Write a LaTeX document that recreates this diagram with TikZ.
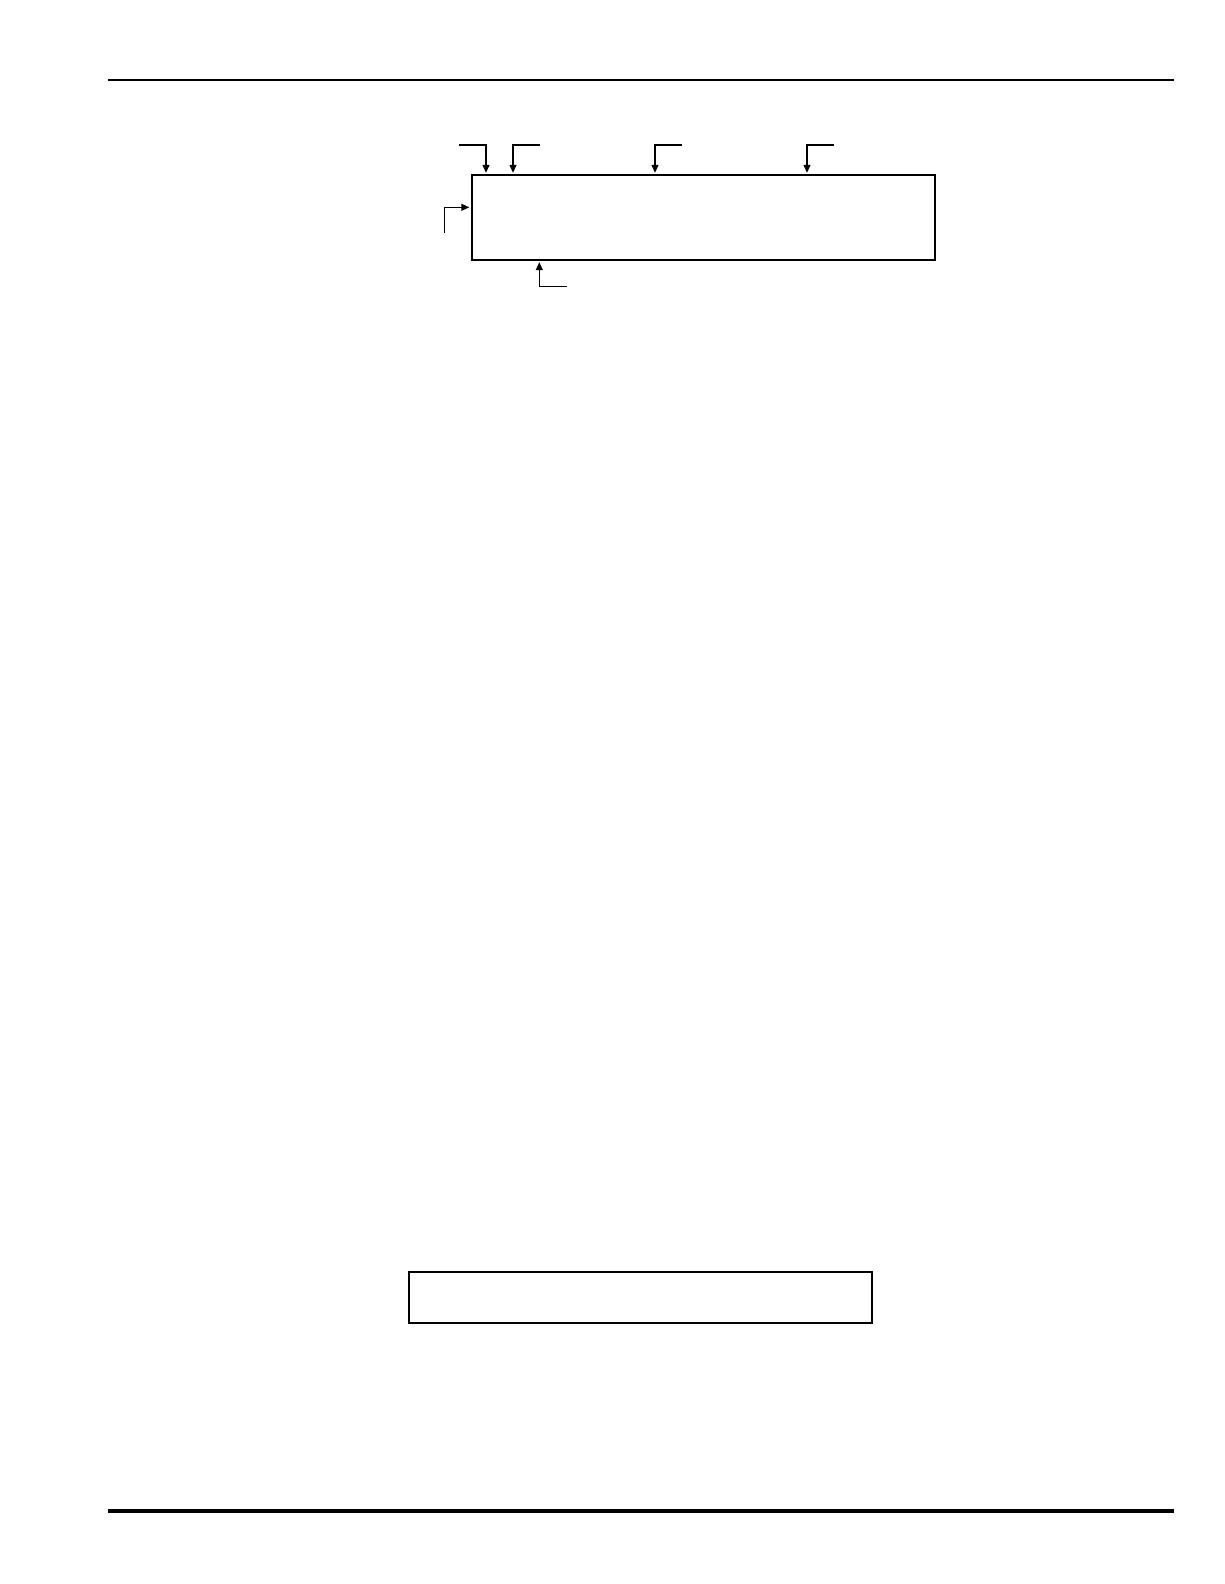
\documentclass[tikz,border=0pt]{standalone}
\usetikzlibrary{arrows.meta}
\tikzset{
  block/.style={draw, line width=2pt, inner sep=0pt, minimum width=463pt},
  feed/.style={line width=1.3pt, -{Triangle[length=8pt,width=7pt]}, shorten >=1.5pt},
}
\begin{document}
\begin{tikzpicture}[x=1pt,y=-1pt]
	\useasboundingbox (0,0) rectangle (1224,1584);
	% rules at top and bottom of the page
	\coordinate (h0) at (108,80);
	\coordinate (h1) at (1174,80);
	\coordinate (f0) at (108,1511);
	\coordinate (f1) at (1174,1511);
	\draw[line width=2pt] (h0) -- (h1);
	\draw[line width=4pt] (f0) -- (f1);

	\node[block, minimum height=84.4pt] (sys) at (703.3,217.5) {};
	\node[block, minimum height=51pt] (out) at (640.7,1297.2) {};

	\def\toplist {1/486/459, 2/513/540, 3/655/682, 4/807/834}  % x of arrow / free end
	\foreach \n\x\e in \toplist
	{	\coordinate (t\n) at (\e,145);
		\coordinate (k\n) at (\x,145);
		\draw[feed] (t\n) -- (k\n) -- (k\n |- sys.north);
	}
	\coordinate (l0) at (444.3,233.3);
	\coordinate (l1) at (444.3,207.3);
	\draw[feed] (l0) -- (l1) -- (l1 -| sys.west);
	\coordinate (b0) at (566.7,286.7);
	\coordinate (b1) at (539.3,286.7);
	\draw[feed] (b0) -- (b1) -- (b1 |- sys.south);
\end{tikzpicture}
\end{document}
